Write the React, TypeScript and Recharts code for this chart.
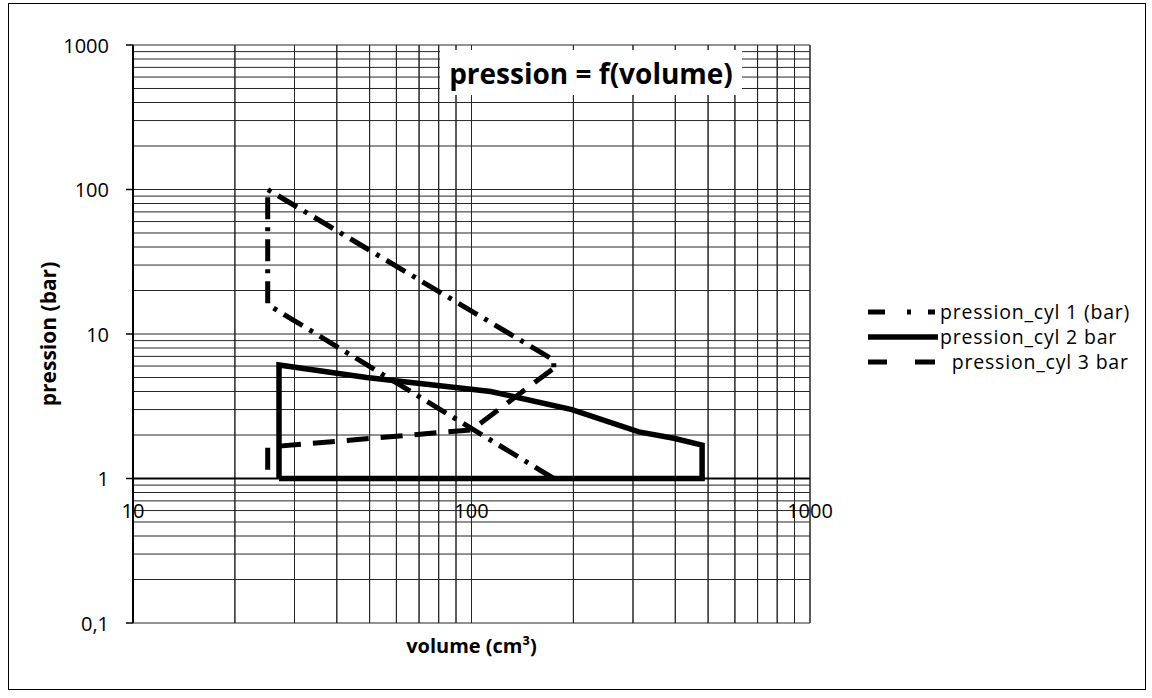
import {
  LineChart,
  Line,
  XAxis,
  YAxis,
  CartesianGrid,
  ReferenceLine,
  ReferenceDot,
  Legend,
} from "recharts";

// log grid: every 1..9 multiple of each decade
const volumeTicks = [10, 20, 30, 40, 50, 60, 70, 80, 90, 100, 200, 300, 400, 500, 600, 700, 800, 900, 1000];
const pressionTicks = [
  0.1, 0.2, 0.3, 0.4, 0.5, 0.6, 0.7, 0.8, 0.9,
  1, 2, 3, 4, 5, 6, 7, 8, 9,
  10, 20, 30, 40, 50, 60, 70, 80, 90,
  100, 200, 300, 400, 500, 600, 700, 800, 900, 1000,
];
const volumeLabels = [10, 100, 1000];
const pressionLabels = [0.1, 1, 10, 100, 1000];

// values
const cyl1Volume = [175, 25, 25, 175, 175];
const cyl1Pression = [1, 16, 100, 6.6, 5.8];

const cyl2Volume = [27, 27, 49, 114, 198, 312, 396, 480, 480, 27];
const cyl2Pression = [1, 6.1, 5.0, 4.0, 3.0, 2.1, 1.9, 1.7, 1, 1];

const cyl3Volume = [25, 25, 100, 175];
const cyl3Pression = [1.15, 1.65, 2.17, 5.8];

const zip = (v: number[], p: number[]) => v.map((x, i) => ({ v: x, p: p[i] }));

const cyl1 = zip(cyl1Volume, cyl1Pression);
const cyl2 = zip(cyl2Volume, cyl2Pression);
const cyl3 = zip(cyl3Volume, cyl3Pression);

const series = [
  { name: "pression_cyl 1 (bar)", dash: "22 8 4 8", legendDash: "17 22 4 17 7 10", width: 5 },
  { name: "pression_cyl 2 bar", dash: undefined, legendDash: undefined, width: 5.5 },
  { name: "\u00a0\u00a0pression_cyl 3 bar", dash: "22 12", legendDash: "19 28 20", width: 5 },
];

const FONT = "'Open Sans', sans-serif";
const GRID = "#262626";

function EmptyTick() {
  return <g />;
}

function PressionTick({ x, y, payload }: any) {
  if (!pressionLabels.includes(payload.value)) return <g />;
  return (
    <g>
      <line x1={x + 17} x2={x + 24} y1={y} y2={y} stroke="#000" strokeWidth={1.5} />
      <text x={x} y={y} textAnchor="end" dominantBaseline="central" fontSize={20} fill="#000">
        {String(payload.value).replace(".", ",")}
      </text>
    </g>
  );
}

function YTitle({ viewBox }: any) {
  const cx = viewBox.x + 39;
  const cy = viewBox.y + viewBox.height / 2;
  return (
    <text
      x={cx}
      y={cy}
      transform={`rotate(-90 ${cx} ${cy})`}
      textAnchor="middle"
      dominantBaseline="central"
      fontSize={21}
      fontWeight={700}
      fill="#000"
    >
      pression (bar)
    </text>
  );
}

function XTitle({ viewBox }: any) {
  return (
    <text
      x={viewBox.x + viewBox.width / 2}
      y={viewBox.y + 22}
      textAnchor="middle"
      dominantBaseline="central"
      fontSize={20}
      fontWeight={700}
      fill="#000"
    >
      volume (cm³)
    </text>
  );
}

function renderLegend() {
  return (
    <div style={{ fontFamily: FONT, fontSize: 19.5, letterSpacing: 0.8, lineHeight: "25px", color: "#000" }}>
      {series.map((s) => (
        <div key={s.name} style={{ display: "flex", alignItems: "center", height: 25, whiteSpace: "pre" }}>
          <svg width={72} height={10}>
            <line x1={0} x2={70} y1={5} y2={5} stroke="#000" strokeWidth={s.width} strokeDasharray={s.legendDash} />
          </svg>
          <span>{s.name}</span>
        </div>
      ))}
    </div>
  );
}

export default function App() {
  return (
    <div
      style={{
        position: "absolute",
        left: 8,
        top: 3,
        width: 1138,
        height: 687,
        border: "1px solid #000",
        boxSizing: "border-box",
        background: "#fff",
        fontFamily: FONT,
      }}
    >
      <LineChart width={1136} height={685} margin={{ top: 41, right: 335, bottom: 0, left: 0 }}>
        <CartesianGrid
          stroke={GRID}
          strokeWidth={1}
          horizontalValues={pressionTicks}
          verticalValues={volumeTicks}
        />
        <XAxis
          type="number"
          dataKey="v"
          scale="log"
          domain={[10, 1000]}
          ticks={volumeTicks}
          interval={0}
          allowDataOverflow
          tick={<EmptyTick />}
          tickLine={false}
          axisLine={false}
          height={66}
          label={<XTitle />}
        />
        <YAxis
          type="number"
          dataKey="p"
          scale="log"
          domain={[0.1, 1000]}
          ticks={pressionTicks}
          allowDataOverflow
          interval={0}
          width={124}
          tickSize={7}
          tickMargin={17}
          tickLine={false}
          axisLine={{ stroke: "#000", strokeWidth: 2 }}
          tick={<PressionTick />}
          label={<YTitle />}
        />
        {volumeTicks.map((v) => (
          <ReferenceLine key={`vx${v}`} x={v} stroke={GRID} strokeWidth={1} />
        ))}
        <ReferenceLine y={1} stroke="#000" strokeWidth={2} />
        {volumeLabels.map((v) => (
          <ReferenceDot
            key={v}
            x={v}
            y={1}
            r={0}
            fill="none"
            stroke="none"
            label={{ value: String(v), position: "bottom", offset: 25, fontSize: 20, fill: "#000" }}
          />
        ))}
        <Line
          data={cyl1}
          dataKey="p"
          name={series[0].name}
          type="linear"
          stroke="#000"
          strokeWidth={series[0].width}
          strokeDasharray={series[0].dash}
          dot={false}
          isAnimationActive={false}
        />
        <Line
          data={cyl2}
          dataKey="p"
          name={series[1].name}
          type="linear"
          stroke="#000"
          strokeWidth={series[1].width}
          dot={false}
          isAnimationActive={false}
        />
        <Line
          data={cyl3}
          dataKey="p"
          name={series[2].name}
          type="linear"
          stroke="#000"
          strokeWidth={series[2].width}
          strokeDasharray={series[2].dash}
          dot={false}
          isAnimationActive={false}
        />
        <Legend
          layout="vertical"
          align="center"
          verticalAlign="middle"
          content={renderLegend}
          wrapperStyle={{ left: 859, top: 295, width: 280 }}
        />
      </LineChart>
      <div
        style={{
          position: "absolute",
          left: 431,
          top: 46,
          width: 302,
          height: 45,
          background: "#fff",
          display: "flex",
          alignItems: "center",
          justifyContent: "center",
          fontSize: 28,
          fontWeight: 700,
          color: "#000",
          whiteSpace: "nowrap",
        }}
      >
        pression = f(volume)
      </div>
    </div>
  );
}
